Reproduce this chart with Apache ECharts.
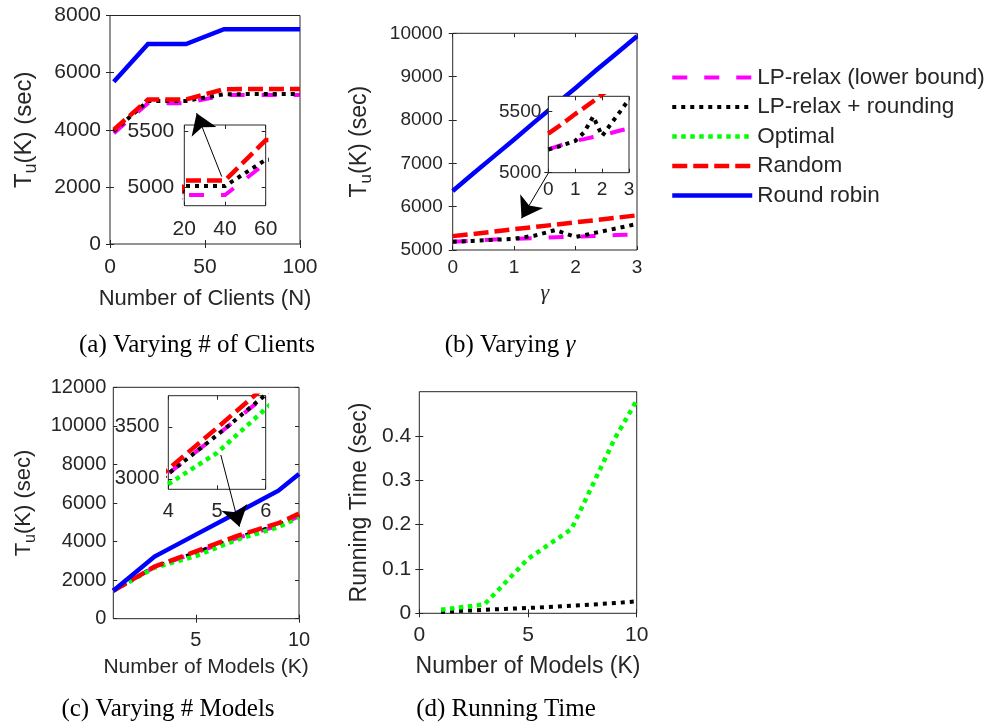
<!DOCTYPE html>
<html><head><meta charset="utf-8">
<script src="https://cdn.jsdelivr.net/npm/echarts@6/dist/echarts.min.js"></script>
<style>html,body{margin:0;padding:0;background:#fff}#c{width:992px;height:728px}</style>
</head><body><div id="c"></div>
<script>
// ---------- data ----------
const seriesNames = ['LP-relax (lower bound)', 'LP-relax + rounding', 'Optimal', 'Random', 'Round robin'];

// (a) varying number of clients
const clientsN = [2, 20, 40, 60, 80, 100];
const a_lpLower = [3880, 4930, 4930, 5215, 5220, 5220];
const a_lpRound = [3950, 5010, 5010, 5245, 5250, 5250];
const a_random = [4000, 5060, 5060, 5420, 5430, 5430];
const a_roundRobin = [5680, 7000, 7000, 7520, 7520, 7520];

// (b) varying gamma
const gammaVals = [0, 0.33, 0.67, 1, 1.33, 1.67, 2, 2.33, 2.67, 3];
const b_lpLower = [5190, 5215, 5240, 5260, 5275, 5292, 5308, 5325, 5345, 5362];
const b_lpRound = [5190, 5210, 5235, 5260, 5330, 5460, 5300, 5400, 5500, 5600];
const b_random = [5320, 5370, 5425, 5480, 5530, 5585, 5640, 5690, 5745, 5800];
const b_roundRobin = [6360, 6760, 7160, 7550, 7950, 8350, 8740, 9140, 9540, 9930];

// (c) varying number of models
const modelsK = [1, 3, 5, 7, 9, 10];
const c_lpLower = [1450, 2680, 3420, 4180, 4830, 5320];
const c_lpRound = [1450, 2680, 3420, 4200, 4850, 5350];
const c_optimal = [1450, 2650, 3250, 4100, 4750, 5250];
const c_random = [1450, 2700, 3490, 4300, 4950, 5450];
const c_roundRobin = [1450, 3220, 4360, 5500, 6640, 7500];

// (d) running time
const d_lpRound = [0.003, 0.008, 0.012, 0.017, 0.023, 0.027];
const d_optimal = [0.008, 0.02, 0.123, 0.19, 0.395, 0.48];

// tick labels
const a_xTicks = [0, 50, 100], a_yTicks = [0, 2000, 4000, 6000, 8000];
const aIn_xTicks = [20, 40, 60], aIn_yTicks = [5000, 5500];
const b_xTicks = [0, 1, 2, 3], b_yTicks = [5000, 6000, 7000, 8000, 9000, 10000];
const bIn_xTicks = [0, 1, 2, 3], bIn_yTicks = [5000, 5500];
const c_xTicks = [5, 10], c_yTicks = [0, 2000, 4000, 6000, 8000, 10000, 12000];
const cIn_xTicks = [4, 5, 6], cIn_yTicks = [3000, 3500];
const d_xTicks = [0, 5, 10], d_yTicks = [0, 0.1, 0.2, 0.3, 0.4];

// zoom arrows (tail -> head, in data units of the host panel)
const arrowA = [[58.8, 2360], [45.6, 4580]];
const arrowB = [[1.56, 6784], [1.12, 5731]];
const arrowC = [[6.21, 8490], [7.11, 4772]];

// ---------- styling ----------
const FONT = 'Liberation Sans, Arial, Helvetica, sans-serif';
const SERIF = 'Liberation Serif, Times New Roman, serif';
const AX = '#262626';
const styles = {
  'LP-relax (lower bound)': {color: '#ff00ff', width: 4, type: [15, 17]},
  'LP-relax + rounding': {color: '#000000', width: 4, type: [4, 5]},
  'Optimal': {color: '#00ff00', width: 4.5, type: [4.5, 4.5]},
  'Random': {color: '#ff0000', width: 4.5, type: [15, 6]},
  'Round robin': {color: '#0000ff', width: 4.5, type: 'solid'}
};

const grids = [
  {left: 110, top: 15.5, width: 190, height: 228.5, inset: false},    // 0 a
  {left: 184.3, top: 125, width: 81.4, height: 80.7, inset: true},     // 1 a inset
  {left: 452.7, top: 33.3, width: 184.3, height: 216.7, inset: false}, // 2 b
  {left: 548.3, top: 96.3, width: 80.7, height: 76.4, inset: true},    // 3 b inset
  {left: 113.3, top: 387.3, width: 185.7, height: 231.4, inset: false},// 4 c
  {left: 168.3, top: 395.7, width: 97.4, height: 93.6, inset: true},   // 5 c inset
  {left: 419.3, top: 391.7, width: 217.4, height: 221.6, inset: false} // 6 d
];

const xAxis = [], yAxis = [], series = [];
const plain = v => String(v);

function addAxes(gi, cfg) {
  const z = cfg.z || 0;
  const tick = (vals) => ({show: true, inside: true, length: 4, customValues: vals, lineStyle: {color: AX, width: 1}});
  const xi = xAxis.length, yi = yAxis.length;
  const nfs = cfg.nfs || cfg.fs;
  xAxis.push({
    gridIndex: gi, type: 'value', position: 'bottom', min: cfg.xmin, max: cfg.xmax, z: z,
    axisLine: {show: false}, splitLine: {show: false}, axisTick: tick(cfg.xt),
    axisLabel: {customValues: cfg.xt, formatter: plain, color: AX, fontSize: cfg.fs, fontFamily: FONT, margin: cfg.xm},
    name: cfg.xname || '', nameLocation: 'middle', nameGap: cfg.xng || 30,
    nameTextStyle: Object.assign({color: AX, fontSize: nfs, fontFamily: FONT}, cfg.xnameStyle || {})
  });
  xAxis.push({
    gridIndex: gi, type: 'value', position: 'top', min: cfg.xmin, max: cfg.xmax, z: z,
    axisLine: {show: false}, splitLine: {show: false}, axisTick: tick(cfg.xt), axisLabel: {show: false}
  });
  const yfs = cfg.ynfs || nfs;
  yAxis.push({
    gridIndex: gi, type: 'value', position: 'left', min: cfg.ymin, max: cfg.ymax, z: z,
    axisLine: {show: false}, splitLine: {show: false}, axisTick: tick(cfg.yt),
    axisLabel: {customValues: cfg.yt, formatter: plain, color: AX, fontSize: cfg.fs, fontFamily: FONT, margin: cfg.ym},
    name: cfg.yname || '', nameLocation: 'middle', nameRotate: 90, nameGap: cfg.yng || 40,
    nameTextStyle: {color: AX, fontSize: yfs, fontFamily: FONT,
      rich: {s: {fontSize: Math.round(yfs * 0.74), fontFamily: FONT, color: AX, padding: [Math.round(yfs * 0.55), 0, 0, 0]},
             n: {fontSize: yfs, fontFamily: FONT, color: AX}}}
  });
  yAxis.push({
    gridIndex: gi, type: 'value', position: 'right', min: cfg.ymin, max: cfg.ymax, z: z,
    axisLine: {show: false}, splitLine: {show: false}, axisTick: tick(cfg.yt), axisLabel: {show: false}
  });
  return [xi, yi];
}

function addLine(name, xs, ys, ax, z) {
  const st = styles[name];
  series.push({
    type: 'line', name: name, xAxisIndex: ax[0], yAxisIndex: ax[1], z: z,
    data: xs.map((v, i) => [v, ys[i]]), symbol: 'none', showSymbol: false, silent: true,
    color: st.color, itemStyle: {color: st.color},
    lineStyle: {color: st.color, width: st.width, type: st.type, cap: 'butt', join: 'miter'},
    clip: true, animation: false
  });
}

function addArrow(pts, ax) {
  series.push({
    type: 'line', name: '', xAxisIndex: ax[0], yAxisIndex: ax[1], z: 12, data: [], silent: true,
    markLine: {
      silent: true, animation: false, symbol: ['none', 'arrow'], symbolSize: 20,
      label: {show: false}, lineStyle: {color: '#000', width: 1, type: 'solid'},
      data: [[{coord: pts[0]}, {coord: pts[1]}]]
    }
  });
}

const YNAME = '{n|T}{s|u}{n|(K) (sec)}';

// (a)
const axA = addAxes(0, {xmin: 0, xmax: 100, ymin: 0, ymax: 8000, xt: a_xTicks, yt: a_yTicks, fs: 21, nfs: 22, ynfs: 24, xm: 13, ym: 9,
  xname: 'Number of Clients (N)', xng: 44, yname: YNAME, yng: 70});
const axAi = addAxes(1, {xmin: 20, xmax: 60, ymin: 4835, ymax: 5555, xt: aIn_xTicks, yt: aIn_yTicks, fs: 21, xm: 13, ym: 10, z: 7});
// (b)
const axB = addAxes(2, {xmin: 0, xmax: 3, ymin: 5000, ymax: 10000, xt: b_xTicks, yt: b_yTicks, fs: 19, nfs: 20, ynfs: 23, xm: 8, ym: 10,
  xname: 'γ', xng: 32, xnameStyle: {fontFamily: SERIF, fontStyle: 'italic', fontSize: 22}, yname: YNAME, yng: 78});
const axBi = addAxes(3, {xmin: 0, xmax: 3, ymin: 5000, ymax: 5625, xt: bIn_xTicks, yt: bIn_yTicks, fs: 19, xm: 8, ym: 7, z: 7});
// (c)
const axC = addAxes(4, {xmin: 1, xmax: 10, ymin: 0, ymax: 12000, xt: c_xTicks, yt: c_yTicks, fs: 20, nfs: 21, ynfs: 22, xm: 12, ym: 7,
  xname: 'Number of Models (K)', xng: 38, yname: YNAME, yng: 75});
const axCi = addAxes(5, {xmin: 4, xmax: 6, ymin: 2900, ymax: 3800, xt: cIn_xTicks, yt: cIn_yTicks, fs: 20, xm: 12, ym: 9, z: 7});
// (d)
const axD = addAxes(6, {xmin: 0, xmax: 10, ymin: 0, ymax: 0.5, xt: d_xTicks, yt: d_yTicks, fs: 21, nfs: 23, xm: 11, ym: 8,
  xname: 'Number of Models (K)', xng: 42, yname: 'Running Time (sec)', yng: 48});

// series
addLine('LP-relax (lower bound)', clientsN, a_lpLower, axA, 2);
addLine('LP-relax + rounding', clientsN, a_lpRound, axA, 2);
addLine('Random', clientsN, a_random, axA, 2);
addLine('Round robin', clientsN, a_roundRobin, axA, 2);
addLine('LP-relax (lower bound)', clientsN, a_lpLower, axAi, 6);
addLine('LP-relax + rounding', clientsN, a_lpRound, axAi, 6);
addLine('Random', clientsN, a_random, axAi, 6);

addLine('LP-relax (lower bound)', gammaVals, b_lpLower, axB, 2);
addLine('LP-relax + rounding', gammaVals, b_lpRound, axB, 2);
addLine('Random', gammaVals, b_random, axB, 2);
addLine('Round robin', gammaVals, b_roundRobin, axB, 2);
addLine('LP-relax (lower bound)', gammaVals, b_lpLower, axBi, 6);
addLine('LP-relax + rounding', gammaVals, b_lpRound, axBi, 6);
addLine('Random', gammaVals, b_random, axBi, 6);
addLine('Round robin', gammaVals, b_roundRobin, axBi, 6);

addLine('LP-relax (lower bound)', modelsK, c_lpLower, axC, 2);
addLine('LP-relax + rounding', modelsK, c_lpRound, axC, 2);
addLine('Optimal', modelsK, c_optimal, axC, 2);
addLine('Random', modelsK, c_random, axC, 2);
addLine('Round robin', modelsK, c_roundRobin, axC, 2);
addLine('LP-relax (lower bound)', modelsK, c_lpLower, axCi, 6);
addLine('LP-relax + rounding', modelsK, c_lpRound, axCi, 6);
addLine('Optimal', modelsK, c_optimal, axCi, 6);
addLine('Random', modelsK, c_random, axCi, 6);

addLine('LP-relax + rounding', modelsK, d_lpRound, axD, 2);
addLine('Optimal', modelsK, d_optimal, axD, 2);

addArrow(arrowA, axA);
addArrow(arrowB, axB);
addArrow(arrowC, axC);

const captions = [
  {x: 197, y: 345, text: '(a) Varying # of Clients'},
  {x: 510, y: 345, text: '(b) Varying {g|γ}'},
  {x: 168, y: 709, text: '(c) Varying # Models'},
  {x: 506, y: 709, text: '(d) Running Time'}
];

const option = {
  animation: false,
  backgroundColor: '#ffffff',
  grid: grids.map(g => ({left: g.left, top: g.top, width: g.width, height: g.height, show: true,
    borderColor: AX, borderWidth: 1, backgroundColor: g.inset ? '#ffffff' : 'transparent', z: g.inset ? 5 : 0})),
  legend: {
    left: 670, top: 66, padding: 0, orient: 'vertical', itemWidth: 80, itemHeight: 14, itemGap: 6.5, selectedMode: false,
    data: seriesNames, lineStyle: {width: 'inherit'}, itemStyle: {opacity: 0},
    textStyle: {fontSize: 22.5, fontFamily: FONT, color: AX}
  },
  xAxis: xAxis, yAxis: yAxis, series: series,
  graphic: captions.map(c => ({type: 'text', x: c.x, y: c.y, silent: true,
    style: {text: c.text, align: 'center', verticalAlign: 'middle', fill: '#000', font: '25px ' + SERIF,
      rich: {g: {fontStyle: 'italic', fontSize: 25, fontFamily: SERIF, fill: '#000'}}}}))
};

const chart = echarts.init(document.getElementById('c'), null, {renderer: 'canvas'});
chart.setOption(option);
</script></body></html>
